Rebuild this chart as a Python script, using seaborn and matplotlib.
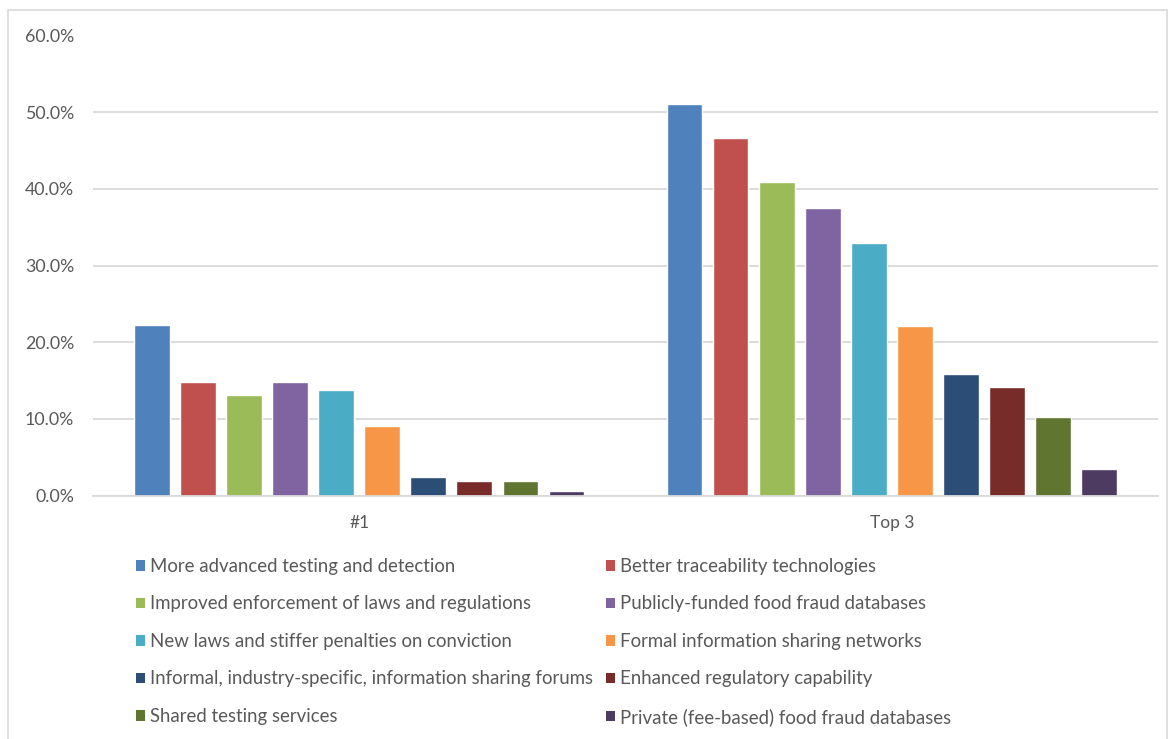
import matplotlib
matplotlib.use("Agg")
import matplotlib.pyplot as plt
from matplotlib.patches import Patch, Rectangle
from matplotlib.ticker import FuncFormatter, FixedLocator
import pandas as pd
import seaborn as sns

# Survey results: share of respondents ranking each measure
groups = ["#1", "Top 3"]
measures = [
    "More advanced testing and detection",
    "Better traceability technologies",
    "Improved enforcement of laws and regulations",
    "Publicly-funded food fraud databases",
    "New laws and stiffer penalties on conviction",
    "Formal information sharing networks",
    "Informal, industry-specific, information sharing forums",
    "Enhanced regulatory capability",
    "Shared testing services",
    "Private (fee-based) food fraud databases",
]
share_first = [0.222, 0.148, 0.131, 0.148, 0.137, 0.091, 0.024, 0.0185, 0.0185, 0.006]
share_top3 = [0.510, 0.466, 0.409, 0.375, 0.329, 0.221, 0.159, 0.142, 0.103, 0.035]
colors = ["#4F81BD", "#C0504D", "#9BBB59", "#8064A2", "#4BACC6",
          "#F79646", "#2C4D75", "#772C2A", "#5F7530", "#4D3B62"]

df = pd.DataFrame({
    "group": [groups[0]] * len(measures) + [groups[1]] * len(measures),
    "measure": measures * 2,
    "share": share_first + share_top3,
})

sns.set_theme(style="white")
plt.rcParams["font.family"] = ["Lato", "DejaVu Sans"]

W, H = 1170, 739
fig = plt.figure(figsize=(W / 100, H / 100), dpi=100)
ax = fig.add_axes([93 / W, 1 - 495.5 / H, (1158 - 93) / W, (495.5 - 35.5) / H])

sns.barplot(data=df, x="group", y="share", hue="measure", hue_order=measures,
            palette=colors, width=0.865, gap=0.22, saturation=1,
            legend=False, ax=ax)

ax.set_ylim(0, 0.6)
ax.set_xlim(-0.5, 1.5)
ax.set_yticks([0, 0.1, 0.2, 0.3, 0.4, 0.5, 0.6])
ax.yaxis.set_major_formatter(FuncFormatter(lambda v, _: f"{v * 100:.1f}%"))
ax.grid(axis="y", color="#d9d9d9", linewidth=1.3)
ax.set_axisbelow(True)
for side in ["left", "right", "top"]:
    ax.spines[side].set_visible(False)
ax.spines["bottom"].set_color("#d9d9d9")
ax.spines["bottom"].set_linewidth(1.3)
ax.set_xlabel("")
ax.set_ylabel("")

ax.tick_params(axis="y", length=0, pad=13.5, labelsize=12.8, labelcolor="#595959")
ax.tick_params(axis="x", which="major", length=0, pad=14, labelsize=12.5, labelcolor="#595959")
ax.xaxis.set_minor_locator(FixedLocator([-0.5, 0.5, 1.5]))
ax.tick_params(axis="x", which="minor", length=7, width=1.3, color="#d9d9d9", direction="out")

# Legend laid out in two columns, row by row
handles = [Patch(facecolor=c, edgecolor="none") for c in colors]
order = [0, 2, 4, 6, 8, 1, 3, 5, 7, 9]
fig.legend([handles[i] for i in order], [measures[i] for i in order],
           ncol=2, loc="upper left", bbox_to_anchor=(136 / W, 1 - 558 / H),
           frameon=False, fontsize=13.4, labelcolor="#595959",
           handlelength=0.5, handleheight=0.5, handletextpad=0.27,
           columnspacing=0.68, labelspacing=1.1, borderpad=0, borderaxespad=0)

# Chart frame
fig.add_artist(Rectangle((8 / W, -0.02), (1167 - 8) / W, 1.02 - 10 / H,
                         transform=fig.transFigure, fill=False,
                         edgecolor="#d9d9d9", linewidth=1.2))

fig.savefig("out.png", dpi=100, facecolor="white")
